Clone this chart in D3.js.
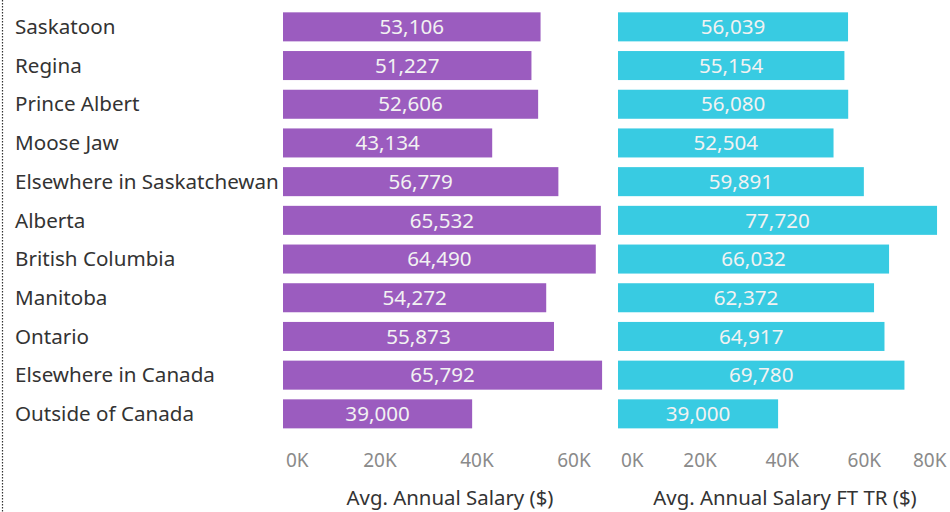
<!DOCTYPE html>
<html><head><meta charset="utf-8">
<script src="https://cdn.jsdelivr.net/npm/d3@7"></script>
<style>body{margin:0;background:#fff}svg{display:block}</style>
</head><body>
<script>
const categories = ["Saskatoon","Regina","Prince Albert","Moose Jaw","Elsewhere in Saskatchewan","Alberta","British Columbia","Manitoba","Ontario","Elsewhere in Canada","Outside of Canada"];
const salary = [53106,51227,52606,43134,56779,65532,64490,54272,55873,65792,39000];
const salaryFT = [56039,55154,56080,52504,59891,77720,66032,62372,64917,69780,39000];
const leftTicks = [0,20000,40000,60000];
const rightTicks = [0,20000,40000,60000,80000];
const titles = ["Avg. Annual Salary ($)","Avg. Annual Salary FT TR ($)"];

const W=950,H=512,font="'Noto Sans', sans-serif";
const svg=d3.select("body").append("svg").attr("width",W).attr("height",H).style("font-family",font);

svg.append("line").attr("x1",2.5).attr("x2",2.5).attr("y1",0).attr("y2",H)
  .attr("stroke","#333").attr("stroke-width",1.2).attr("stroke-dasharray","1.5,1.5");

const y=d3.scaleBand().domain(categories).range([7.5,433.2]).paddingInner(0.25).paddingOuter(0.125);
const fmt=d3.format(",");

svg.append("g").selectAll("text").data(categories).join("text")
  .attr("x",15).attr("y",d=>y(d)+y.bandwidth()/2).attr("dy","0.35em")
  .attr("font-size",20.6).attr("fill","#333").text(d=>d);

function panel(vals,scale,ticks,color,title,titleX){
  const g=svg.append("g");
  g.selectAll("rect").data(vals).join("rect")
    .attr("x",scale(0)).attr("y",(d,i)=>y(categories[i]))
    .attr("width",d=>scale(d)-scale(0)).attr("height",y.bandwidth()).attr("fill",color);
  g.selectAll("text.v").data(vals).join("text").attr("class","v")
    .attr("x",d=>(scale(0)+scale(d))/2).attr("y",(d,i)=>y(categories[i])+y.bandwidth()/2)
    .attr("dy","0.35em").attr("text-anchor","middle").attr("font-size",20.6)
    .attr("fill","#f2f2f2").text(d=>fmt(d));
  g.selectAll("text.t").data(ticks).join("text").attr("class","t")
    .attr("x",(d,i)=> i===0? scale(d)+3 : scale(d))
    .attr("y",460).attr("dy","0.35em")
    .attr("text-anchor",(d,i)=> i===0?"start":(scale(d)>940?"end":"middle"))
    .attr("font-size",19).attr("fill","#8a8a8a")
    .text(d=>d3.format("d")(d/1000)+"K");
  g.append("text").attr("x",titleX).attr("y",498).attr("dy","0.35em").attr("text-anchor","middle")
    .attr("font-size",20.4).attr("fill","#333").text(title);
}
const xL=d3.scaleLinear().domain([0,60000]).range([283,574]);
const xR=d3.scaleLinear().domain([0,80000]).range([618,946.4]);
panel(salary,xL,leftTicks,"#9b5cbf",titles[0],450);
panel(salaryFT,xR,rightTicks,"#38cbe2",titles[1],785);
</script>
</body></html>
